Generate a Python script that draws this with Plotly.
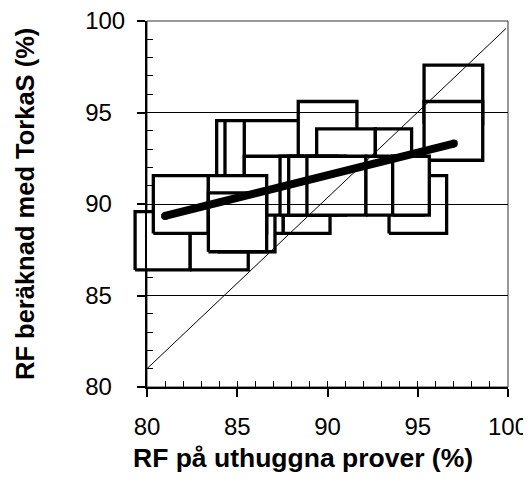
import plotly.graph_objects as go

# Rutor (min/max i x och y) i ritordning
box_x0 = [95.35, 95.35, 83.86, 84.32, 85.39, 88.38, 89.40, 92.65, 93.41, 82.38, 79.34, 84.30,
          83.90, 87.55, 85.39, 87.37, 87.85, 88.86, 92.13, 93.61, 80.35, 83.40, 83.40]
box_x1 = [98.60, 98.60, 87.00, 87.50, 88.60, 91.63, 92.65, 94.66, 96.60, 85.61, 82.38, 87.55,
          87.09, 90.14, 88.60, 90.50, 91.00, 92.13, 95.30, 95.64, 83.40, 86.63, 86.63]
box_y0 = [94.40, 92.39, 91.36, 91.36, 91.36, 92.40, 90.90, 90.90, 88.39, 86.40, 86.40, 88.39,
          87.39, 88.39, 89.39, 89.39, 89.39, 89.39, 89.39, 89.39, 88.39, 88.39, 87.39]
box_y1 = [97.59, 95.60, 94.56, 94.56, 94.56, 95.60, 94.10, 94.10, 91.55, 89.58, 89.58, 91.55,
          90.61, 91.55, 92.61, 92.61, 92.61, 92.61, 92.61, 92.61, 91.55, 91.55, 90.61]

# Linjer
diag_x = [80, 99.9]
diag_y = [81.0, 99.6]
reg_x = [81.0, 97.0]
reg_y = [89.35, 93.3]

tick_vals = [80, 85, 90, 95, 100]
# y-etiketterna är vänsterjusterade i originalet -> fyll ut tvåsiffriga med ett siffbrett mellanrum
y_tick_text = [str(v) if v >= 100 else str(v) + "\u00a0\u00a0" for v in tick_vals]

FONT = "Liberation Sans, Arial"

fig = go.Figure()

# rutorna ritas i en egen subplot som är lite bredare åt vänster (så att rutan vid 80 syns utanför axeln)
for a, b, c, d in zip(box_x0, box_x1, box_y0, box_y1):
    fig.add_trace(go.Scatter(x=[a, b, b, a, a], y=[c, c, d, d, c], mode="lines",
                             fill="toself", fillcolor="white",
                             line=dict(color="black", width=3.3),
                             xaxis="x2", yaxis="y2", hoverinfo="skip"))

fig.add_trace(go.Scatter(x=diag_x, y=diag_y, mode="lines",
                         line=dict(color="black", width=1), xaxis="x2", yaxis="y2"))
fig.add_trace(go.Scatter(x=reg_x, y=reg_y, mode="lines+markers",
                         line=dict(color="black", width=8),
                         marker=dict(color="black", size=8),
                         xaxis="x2", yaxis="y2"))

# tomma spår för de inre tickarna
fig.add_trace(go.Scatter(x=[], y=[], xaxis="x3", yaxis="y"))
fig.add_trace(go.Scatter(x=[], y=[], xaxis="x", yaxis="y3"))

x_dom0 = 17 / 378
fig.update_layout(
    width=523, height=476, autosize=False,
    margin=dict(l=122, r=23, t=13, b=97),
    paper_bgcolor="white", plot_bgcolor="rgba(0,0,0,0)",
    showlegend=False,
    xaxis=dict(domain=[x_dom0, 1], range=[80, 100], tickvals=tick_vals,
               ticks="outside", ticklen=8, tickwidth=1.5, tickcolor="black",
               showline=True, linecolor="black", linewidth=2, showgrid=False,
               zeroline=False, tickfont=dict(family=FONT, size=24, color="black"),
               ticklabelstandoff=9, ticklabeloverflow="allow", automargin=False),
    yaxis=dict(domain=[0, 1], range=[80, 100], tickvals=tick_vals, ticktext=y_tick_text,
               ticks="outside", ticklen=8, tickwidth=1.5, tickcolor="black",
               showline=True, linecolor="black", linewidth=2,
               showgrid=True, gridcolor="black", gridwidth=1,
               zeroline=False, tickfont=dict(family=FONT, size=24, color="black"),
               ticklabelstandoff=7, ticklabeloverflow="allow", automargin=False),
    xaxis3=dict(overlaying="x", anchor="y", range=[80, 100], dtick=1, tick0=80,
                ticks="inside", ticklen=6, tickwidth=1, tickcolor="black", automargin=False,
                showticklabels=False, showline=False, showgrid=False, zeroline=False),
    yaxis3=dict(overlaying="y", anchor="x", range=[80, 100], dtick=1, tick0=80,
                ticks="inside", ticklen=6, tickwidth=1, tickcolor="black", automargin=False,
                showticklabels=False, showline=False, showgrid=False, zeroline=False),
    xaxis2=dict(domain=[0, 1], range=[80 - 17 / 18.05, 100], anchor="y2", visible=False,
                automargin=False),
    yaxis2=dict(domain=[0, 1], range=[80, 100], anchor="x2", visible=False, automargin=False),
    shapes=[dict(type="rect", xref="paper", yref="paper", x0=x_dom0, x1=1, y0=0, y1=1,
                 line=dict(color="#333333", width=1), layer="below")],
    annotations=[
        dict(text="<b>RF på uthuggna prover (%)</b>", xref="paper", yref="paper",
             x=(303 - 130) / 378, y=(387 - 458) / 366, xanchor="center", yanchor="middle",
             showarrow=False, font=dict(family=FONT, size=26.5, color="black")),
        dict(text="<b>RF beräknad med TorkaS (%)</b>", xref="paper", yref="paper",
             x=(25 - 130) / 378, y=(387 - 204) / 366, xanchor="center", yanchor="middle",
             textangle=-90, showarrow=False, font=dict(family=FONT, size=25.5, color="black")),
    ],
)

fig.write_html("out.html")
